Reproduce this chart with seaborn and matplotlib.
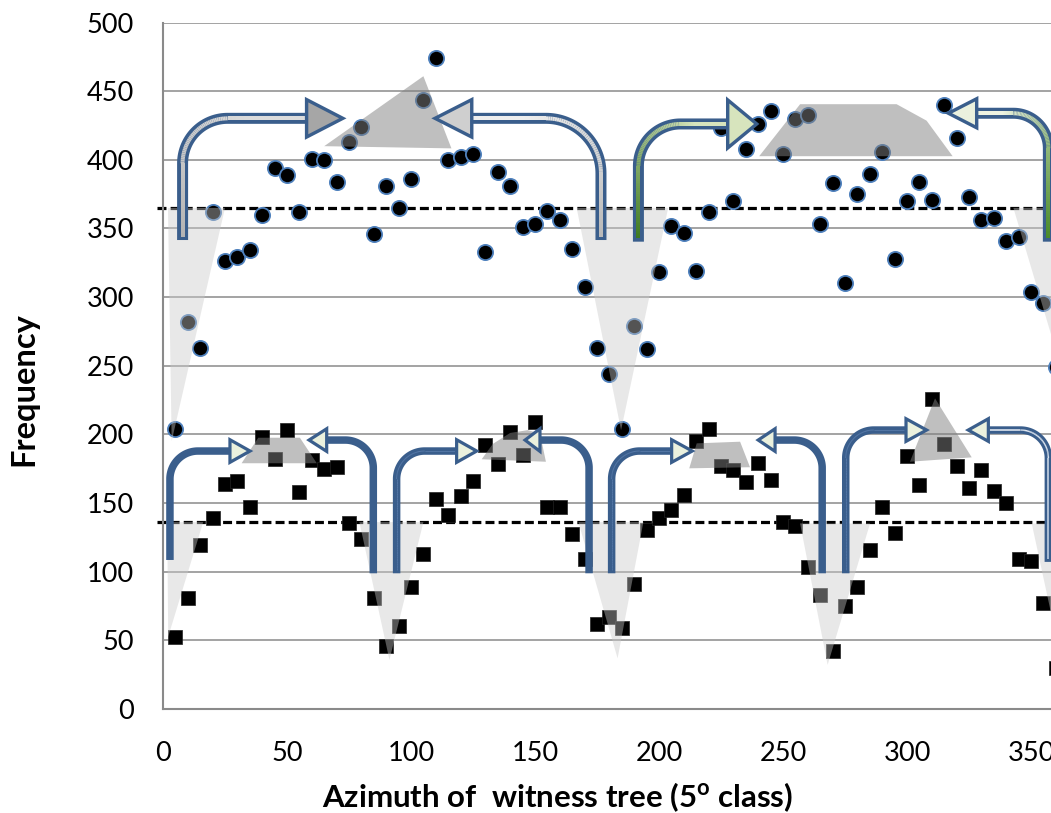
import numpy as np
import pandas as pd
import matplotlib
matplotlib.use("Agg")
import matplotlib.pyplot as plt
import seaborn as sns
from matplotlib.patches import Polygon
from matplotlib.collections import LineCollection
from matplotlib.colors import to_rgb

# ---------------- data ----------------
azimuth = [5, 10, 15, 20, 25, 30, 35, 40, 45, 50, 55, 60, 65, 70, 75, 80, 85, 90,
           95, 100, 105, 110, 115, 120, 125, 130, 135, 140, 145, 150, 155, 160, 165, 170, 175, 180,
           185, 190, 195, 200, 205, 210, 215, 220, 225, 230, 235, 240, 245, 250, 255, 260, 265, 270,
           275, 280, 285, 290, 295, 300, 305, 310, 315, 320, 325, 330, 335, 340, 345, 350, 355, 360]
upper_freq = [204, 282, 263, 362, 326, 329, 334, 360, 394, 389,
              362, 401, 400, 384, 413, 424, 346, 381, 365, 386,
              444, 474, 400, 402, 404, 333, 391, 381, 351, 353,
              363, 356, 335, 307, 263, 244, 204, 279, 262, 318,
              352, 347, 319, 362, 423, 370, 408, 426, 436, 404,
              430, 433, 353, 383, 310, 375, 390, 406, 328, 370,
              384, 371, 440, 416, 373, 356, 358, 341, 344, 304,
              296, 249]
lower_freq = [52, 81, 119, 139, 164, 166, 147, 198, 182, 203,
              158, 181, 175, 176, 135, 124, 81, 46, 60, 89,
              113, 153, 141, 155, 166, 192, 178, 202, 185, 209,
              147, 147, 127, 109, 62, 67, 59, 91, 130, 139,
              145, 156, 195, 204, 177, 174, 165, 179, 167, 136,
              133, 103, 83, 42, 75, 89, 116, 147, 128, 184,
              163, 226, 193, 177, 161, 174, 159, 150, 109, 108,
              77, 30]
upper_mean = 365
lower_mean = 136
x_ticks = [0, 50, 100, 150, 200, 250, 300, 350]
y_ticks = [0, 50, 100, 150, 200, 250, 300, 350, 400, 450, 500]
x_label = "Azimuth of  witness tree (5$^{\\mathbf{o}}$ class)"
y_label = "Frequency"

df_up = pd.DataFrame({"azimuth": azimuth, "freq": upper_freq})
df_lo = pd.DataFrame({"azimuth": azimuth, "freq": lower_freq})

# ---------------- style ----------------
sns.set_theme(style="white")
plt.rcParams["font.family"] = ["Lato", "DejaVu Sans"]
plt.rcParams["mathtext.fontset"] = "custom"
plt.rcParams["mathtext.bf"] = "Lato:bold"
plt.rcParams["mathtext.rm"] = "Lato"

GRID = "#8a8a8a"
BLUE = "#3a5e8c"
PT = 0.72  # points per pixel (dpi 100)

W, H = 1051, 813
fig = plt.figure(figsize=(W / 100, H / 100), dpi=100)
ax = fig.add_axes([163 / W, (H - 708.7) / H, 892.8 / W, 686 / H])

ax.set_xlim(0, 360)
ax.set_ylim(0, 500)
ax.set_xticks(x_ticks)
ax.set_yticks(y_ticks)
for s in ["top", "right"]:
    ax.spines[s].set_visible(False)
for s in ["left", "bottom"]:
    ax.spines[s].set_color(GRID)
    ax.spines[s].set_linewidth(1.5)
ax.yaxis.grid(True, color=GRID, linewidth=1.1)
ax.xaxis.grid(False)
ax.set_axisbelow(True)
ax.tick_params(axis="both", direction="out", length=7, width=1.1, color=GRID,
               labelsize=19.5, labelcolor="black")
ax.tick_params(axis="y", pad=14)
ax.tick_params(axis="x", pad=16)

# mean lines
for m in (upper_mean, lower_mean):
    ax.plot([-2.5, 362], [m, m], color="black", lw=3.2 * PT, dashes=(2.8, 1.3),
            zorder=2.5, clip_on=False)

# points
sns.scatterplot(data=df_up, x="azimuth", y="freq", marker="o", s=120, color="black",
                edgecolor="#4f81bd", linewidth=1.3, ax=ax, zorder=3, legend=False)
sns.scatterplot(data=df_lo, x="azimuth", y="freq", marker="s", s=105, color="black",
                edgecolor="#222222", linewidth=0.5, ax=ax, zorder=3, legend=False)
ax.set_xlabel("")
ax.set_ylabel("")

# ---------------- annotation shapes ----------------
dark_shapes = [
    [(65, 410), (105, 461), (116.3, 408.4)],
    [(240.4, 402.7), (256.9, 440.6), (295.8, 440.6), (307.9, 428.6), (318.4, 402.7)],
    [(31.7, 178.9), (38.4, 197.5), (55.2, 197.5), (62, 178.9)],
    [(128.5, 181.8), (133, 193), (140, 201), (147, 203), (152, 200.7), (154.4, 180)],
    [(212.2, 175.2), (215.2, 193.4), (232.7, 194.6), (236.7, 176)],
    [(301.2, 180), (311.3, 226.2), (326.1, 183.2)],
]
light_shapes = [
    [(2, 365), (25, 365), (3.5, 195)],
    [(166.8, 365), (203.7, 365), (184.7, 203)],
    [(342.9, 365), (381, 365), (362, 249)],
    [(1.7, 136), (16.2, 136), (2.1, 52.5)],
    [(79.2, 136), (105, 136), (91.3, 35.5)],
    [(167.5, 136), (193.7, 136), (183.3, 36.7)],
    [(256.9, 135), (285.1, 135), (268, 31.9)],
    [(350.3, 135), (378, 135), (364, 20)],
]
for pts in light_shapes:
    ax.add_patch(Polygon(pts, closed=True, fc="#c9c9c9", ec="none", alpha=0.42, zorder=4))
for pts in dark_shapes:
    ax.add_patch(Polygon(pts, closed=True, fc="#808080", ec="none", alpha=0.5, zorder=4))


# ---------------- bent arrows ----------------
def arrow_path(x_stem, y_bottom, y_bar, x_base, rx, ry, n=40):
    d = 1 if x_base > x_stem else -1
    vy = np.linspace(y_bottom, y_bar - ry, n)
    vx = np.full(n, float(x_stem))
    cx, cy = x_stem + d * rx, y_bar - ry
    th = np.linspace(np.pi, np.pi / 2, n) if d > 0 else np.linspace(0, np.pi / 2, n)
    ax_ = cx + rx * np.cos(th)
    ay_ = cy + ry * np.sin(th)
    hx = np.linspace(x_stem + d * rx, x_base, n)
    hy = np.full(n, float(y_bar))
    xs = np.concatenate([vx, ax_[1:], hx[1:]])
    ys = np.concatenate([vy, ay_[1:], hy[1:]])
    return xs, ys


def bent_arrow(x_stem, y_bottom, y_bar, x_base, x_tip, r_px, head_half_px,
               out_px, in_px, inner_cols, head_fc, head_lw_px, z=5):
    rx, ry = r_px / 2.48, r_px / 1.372
    hh = head_half_px / 1.372
    xs, ys = arrow_path(x_stem, y_bottom, y_bar, x_base, rx, ry)
    ax.plot(xs, ys, color=BLUE, lw=out_px * PT, solid_capstyle="butt",
            solid_joinstyle="round", zorder=z)
    if in_px > 0:
        xi, yi = arrow_path(x_stem, y_bottom + (out_px - in_px) / 2 / 1.372, y_bar, x_base, rx, ry)
        segs = np.stack([np.column_stack([xi[:-1], yi[:-1]]),
                         np.column_stack([xi[1:], yi[1:]])], axis=1)
        c0, c1 = np.array(to_rgb(inner_cols[0])), np.array(to_rgb(inner_cols[1]))
        t = np.linspace(0, 1, len(segs))[:, None]
        t = np.clip(t * 1.3, 0, 1)
        cols = c0 * (1 - t) + c1 * t
        lc = LineCollection(segs, colors=cols, linewidths=in_px * PT, capstyle="butt",
                            zorder=z + 0.1)
        ax.add_collection(lc)
    ax.add_patch(Polygon([(x_base, y_bar + hh), (x_tip, y_bar), (x_base, y_bar - hh)],
                         closed=True, fc=head_fc, ec=BLUE, lw=head_lw_px * PT,
                         joinstyle="miter", zorder=z + 0.2))


# top arrows
big = dict(out_px=11, in_px=4, head_lw_px=3.4)
bent_arrow(7.9, 341.6, 430.3, 57.9, 72.5, 45, 18.7, inner_cols=("#b4b4b4", "#dcdcdc"), head_fc="#a6a6a6", **big)
bent_arrow(176.6, 341.6, 430.3, 124.5, 109.7, 55, 18.7, inner_cols=("#b8b8b8", "#eeeeee"), head_fc="#cfcfcf", **big)
bent_arrow(191.7, 340.4, 426.2, 227.7, 239.4, 42, 24, inner_cols=("#3f7a22", "#d7e4bd"), head_fc="#d7e4bd", **big)
bent_arrow(357, 340.4, 434, 328.1, 316.7, 35, 14.5, inner_cols=("#4a8a2a", "#eef3e2"), head_fc="#ebf1de", **big)

# bottom arrows
small = dict(r_px=28, head_half_px=11.3, out_px=7.5, head_lw_px=3.2)
thin = ("#4d70a0", "#5b7dab")
bent_arrow(2.8, 108.4, 187.8, 27, 35.1, in_px=0, inner_cols=None, head_fc="#ebf1de", **small)
bent_arrow(84.8, 98.7, 195.8, 66, 58.9, in_px=0, inner_cols=None, head_fc="#ebf1de", **small)
bent_arrow(94.2, 98.7, 187.8, 118.4, 126.5, in_px=1.0, inner_cols=thin, head_fc="#ebf1de", **small)
bent_arrow(171.8, 98.7, 195.8, 152, 146, in_px=0, inner_cols=None, head_fc="#ebf1de", **small)
bent_arrow(180.9, 98.7, 187.8, 205.1, 213.4, in_px=1.0, inner_cols=thin, head_fc="#ebf1de", **small)
bent_arrow(265.8, 98.7, 195.8, 246.8, 240, in_px=0, inner_cols=None, head_fc="#ebf1de", **small)
bent_arrow(275.3, 98.7, 203.1, 299.6, 307.9, in_px=1.0, inner_cols=thin, head_fc="#ebf1de", **small)
bent_arrow(357, 107, 203.1, 332.8, 324.7, in_px=1.5, inner_cols=("#c8d6e8", "#eef2f8"), head_fc="#ebf1de", **small)

# ---------------- axis titles ----------------
fig.text(24 / W, 1 - 389 / H, y_label, rotation=90, ha="center", va="center",
         fontsize=23.5, fontweight="bold", color="black")
fig.text(557.4 / W, 1 - 797 / H, x_label, ha="center", va="center",
         fontsize=22.5, fontweight="bold", color="black")

fig.savefig("out.png", dpi=100)
